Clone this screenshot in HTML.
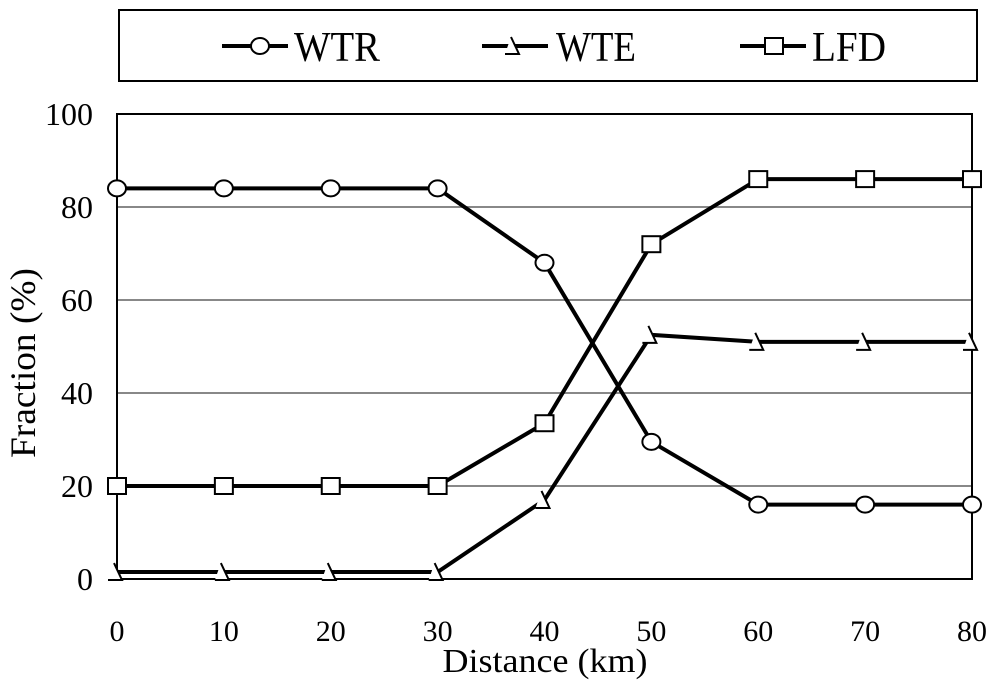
<!DOCTYPE html>
<html><head><meta charset="utf-8"><style>
body{margin:0;background:#fff}
svg{display:block;font-family:"Liberation Serif",serif}
</style></head><body>
<svg id="c" width="1000" height="685" viewBox="0 0 1000 685">
<rect x="119" y="10" width="858" height="71" fill="#fff" stroke="#000" stroke-width="2"/>
<g id="legend"></g>
<g id="grid"></g>
<rect x="117" y="114" width="855" height="465" fill="none" stroke="#000" stroke-width="2"/>
<g id="ticks"></g>
<g id="series"></g>
<text x="545" y="672" font-size="34" text-anchor="middle" textLength="205" lengthAdjust="spacingAndGlyphs">Distance (km)</text>
<text transform="translate(35,363) rotate(-90)" font-size="36" text-anchor="middle" textLength="190" lengthAdjust="spacingAndGlyphs">Fraction (%)</text>
</svg>
<script>
const categories=[0,10,20,30,40,50,60,70,80];
const wtr=[84,84,84,84,68,29.5,16,16,16];
const wte=[1.5,1.5,1.5,1.5,17,52.5,51,51,51];
const lfd=[20,20,20,20,33.5,72,86,86,86];
const yTicks=[0,20,40,60,80,100];
const NS="http://www.w3.org/2000/svg";
const X=v=>117+v/80*855, Y=v=>579-v/100*465;
function mk(t,a,p){const e=document.createElementNS(NS,t);for(const k in a)e.setAttribute(k,a[k]);p.appendChild(e);return e;}
const grid=document.getElementById('grid'),ticks=document.getElementById('ticks'),ser=document.getElementById('series'),leg=document.getElementById('legend');
yTicks.forEach(v=>{
 if(v>0&&v<100){const l=mk('line',{x1:117,x2:972,y1:Y(v),y2:Y(v),stroke:'#888','stroke-width':2},grid);
 
 }
 const t=mk('text',{x:93,y:Y(v)+11,'font-size':32,'text-anchor':'end'},ticks);t.textContent=v;
 
 
});
categories.forEach(c=>{
 const t=mk('text',{x:X(c),y:641,'font-size':30,'text-anchor':'middle'},ticks);t.textContent=c;
 
 
});
function marker(type,x,y,p){
 let e;
 if(type==='circle')e=mk('ellipse',{cx:x,cy:y,rx:9,ry:8,fill:'#fff',stroke:'#000','stroke-width':2},p);
 else if(type==='square')e=mk('rect',{x:x-9,y:y-8,width:18,height:16,fill:'#fff',stroke:'#000','stroke-width':2},p);
 else {e=mk('g',{},p);
  mk('path',{d:`M${x-3},${y-9} L${x+5},${y+8} L${x-9},${y+8} Z`,fill:'#fff',stroke:'none'},e);
  mk('path',{d:`M${x-3},${y-9} L${x+5},${y+8} L${x-9},${y+8}`,fill:'none',stroke:'#000','stroke-width':2},e);}
 return e;
}
const S=[['wtr',wtr,'circle','WTR',260,222,294,86],['wte',wte,'tri','WTE',514,482,556,80],['lfd',lfd,'square','LFD',774,740,812,74]];
S.forEach(([id,vals,m,name,mx,lx,tx,tw])=>{
 const g=mk('g',{},ser);
 
 
 const pl=mk('polyline',{points:vals.map((v,i)=>X(categories[i])+','+Y(v)).join(' '),fill:'none',stroke:'#000','stroke-width':4},g);
 
 
 vals.forEach((v,i)=>{const e=marker(m,X(categories[i]),Y(v),g);
  
  });
 const lg=mk('g',{},leg);
 
 
 mk('line',{x1:lx,x2:lx+66,y1:46,y2:46,stroke:'#000','stroke-width':4},lg);
 marker(m,mx,46,lg);
 const t=mk('text',{x:tx,y:61,'font-size':42,textLength:tw,lengthAdjust:'spacingAndGlyphs'},lg);t.textContent=name;
});
</script>
</body></html>
